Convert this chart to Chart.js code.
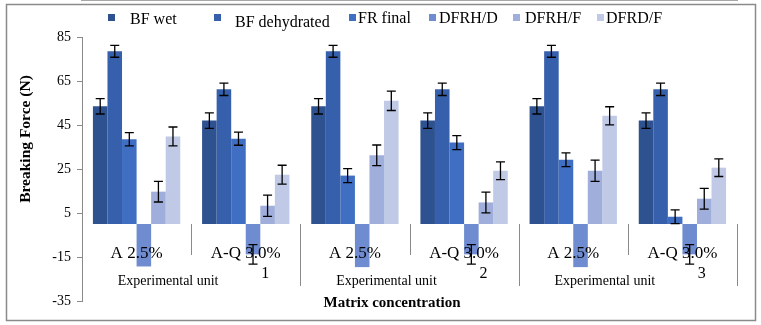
<!DOCTYPE html>
<html>
<head>
<meta charset="utf-8">
<script src="https://cdn.jsdelivr.net/npm/chart.js@4.4.1/dist/chart.umd.min.js"></script>
<style>
  html, body { margin: 0; padding: 0; background: #fff; }
  #wrap { width: 761px; height: 325px; }
</style>
</head>
<body>
<div id="wrap"><canvas id="chart" width="761" height="325"></canvas></div>
<script>
// Breaking force by matrix concentration, three experimental units
const categories = ['A 2.5%', 'A-Q 3.0%', 'A 2.5%', 'A-Q 3.0%', 'A 2.5%', 'A-Q 3.0%'];
const unitTitle = 'Experimental unit';
const unitNumbers = ['1', '2', '3'];
const yTicks = [-35, -15, 5, 25, 45, 65, 85];

const seriesNames = ['BF wet', 'BF dehydrated', 'FR final', 'DFRH/D', 'DFRH/F', 'DFRD/F'];
const bfWet = [53.5, 47, 53.5, 47, 53.5, 47];
const bfWetErr = [3.5, 3.5, 3.5, 3.5, 3.5, 3.5];
const bfDehydrated = [78.5, 61.2, 78.5, 61.2, 78.5, 61.2];
const bfDehydratedErr = [2.7, 2.8, 2.7, 2.8, 2.7, 2.8];
const frFinal = [38.5, 38.8, 22, 37, 29.2, 3.3];
const frFinalErr = [3, 3, 3.2, 3.2, 3.1, 3.1];
const dfrhD = [-19.3, -13.8, -19.6, -13.8, -19.6, -13.8];
const dfrhDErr = [0, 4.4, 0, 4.4, 0, 4.4];
const dfrhF = [14.7, 8.3, 31.2, 9.8, 24.2, 11.5];
const dfrhFErr = [4.7, 4.8, 4.7, 4.7, 4.8, 4.7];
const dfrdF = [39.8, 22.4, 56, 24.2, 49.2, 25.6];
const dfrdFErr = [4.3, 4.3, 4.4, 4.0, 4.1, 4.0];

const colors = ['#2e5190', '#3660ab', '#3f6ec2', '#6e8ccf', '#9faeda', '#c0cae6'];
const serif = "'Liberation Serif', 'Times New Roman', serif";
const gray = '#8a8a8a';

const values = [bfWet, bfDehydrated, frFinal, dfrhD, dfrhF, dfrdF];
const errors = [bfWetErr, bfDehydratedErr, frFinalErr, dfrhDErr, dfrhFErr, dfrdFErr];

// legend layout: box left, box top, text left, text middle
const legendSpots = [
  [108, 14, 130, 20], [214, 14, 235, 22.5], [349, 14, 358, 18.5],
  [429, 14, 439, 18.5], [513, 14, 525, 18.5], [597, 14, 606, 18.5]
];

const errorBars = {
  id: 'errorBars',
  afterDatasetsDraw(chart) {
    const ctx = chart.ctx;
    const y = chart.scales.y;
    ctx.save();
    ctx.strokeStyle = '#000';
    ctx.lineWidth = 1.3;
    chart.data.datasets.forEach((ds, di) => {
      const meta = chart.getDatasetMeta(di);
      meta.data.forEach((bar, i) => {
        const e = ds.errors[i];
        if (!e) return;
        const top = y.getPixelForValue(ds.data[i] + e);
        const bot = y.getPixelForValue(ds.data[i] - e);
        ctx.beginPath();
        ctx.moveTo(bar.x, top); ctx.lineTo(bar.x, bot);
        ctx.moveTo(bar.x - 4.5, top); ctx.lineTo(bar.x + 4.5, top);
        ctx.moveTo(bar.x - 4.5, bot); ctx.lineTo(bar.x + 4.5, bot);
        ctx.stroke();
      });
    });
    ctx.restore();
  }
};

// frame, legend, second category level and axis titles
const decorations = {
  id: 'decorations',
  afterDraw(chart) {
    const ctx = chart.ctx;
    const x = chart.scales.x;
    const y = chart.scales.y;
    const zero = y.getPixelForValue(0);
    const half = (x.getPixelForValue(1) - x.getPixelForValue(0)) / 2;
    ctx.save();

    ctx.strokeStyle = gray;
    ctx.lineWidth = 1.5;
    ctx.strokeRect(6.5, 4.5, 749, 316);

    // dividers between categories and between units
    ctx.lineWidth = 1;
    for (let i = 0; i <= categories.length; i++) {
      const px = Math.round(x.getPixelForValue(i) - half) + 0.5;
      const len = i % 2 === 0 ? 62 : 31;
      ctx.beginPath();
      ctx.moveTo(px, zero); ctx.lineTo(px, zero + len);
      ctx.stroke();
    }

    ctx.fillStyle = '#000';
    ctx.textAlign = 'center';
    ctx.textBaseline = 'middle';
    unitNumbers.forEach((n, u) => {
      const c = (x.getPixelForValue(2 * u) + x.getPixelForValue(2 * u + 1)) / 2;
      ctx.font = '14px ' + serif;
      ctx.fillText(unitTitle, c - 23, zero + 57);
      ctx.font = '16px ' + serif;
      ctx.fillText(n, c + 74, zero + 50);
    });

    ctx.font = 'bold 15px ' + serif;
    ctx.fillText('Matrix concentration', 392, 303);
    ctx.translate(26, 139);
    ctx.rotate(-Math.PI / 2);
    ctx.font = 'bold 15.5px ' + serif;
    ctx.fillText('Breaking Force (N)', 0, 0);
    ctx.setTransform(1, 0, 0, 1, 0, 0);

    // legend
    ctx.textAlign = 'left';
    ctx.font = '16px ' + serif;
    chart.data.datasets.forEach((ds, i) => {
      const [bx, by, tx, ty] = legendSpots[i];
      ctx.fillStyle = ds.backgroundColor;
      ctx.fillRect(bx, by, 7, 7);
      ctx.fillStyle = '#000';
      ctx.fillText(ds.label, tx, ty);
    });
    ctx.restore();
  }
};

new Chart(document.getElementById('chart'), {
  type: 'bar',
  data: {
    labels: categories,
    datasets: seriesNames.map((name, i) => ({
      label: name,
      data: values[i],
      errors: errors[i],
      backgroundColor: colors[i],
      borderWidth: 0,
      categoryPercentage: 0.8,
      barPercentage: 1.0
    }))
  },
  options: {
    responsive: false,
    animation: false,
    layout: { padding: { left: 0, right: 24, top: 37, bottom: 24 } },
    plugins: {
      legend: { display: false },
      tooltip: { enabled: false }
    },
    scales: {
      x: {
        position: { y: 0 },
        grid: { display: false, z: 1 },
        border: { display: true, color: gray, width: 1.5 },
        ticks: {
          z: 1,
          color: '#000',
          font: { family: serif, size: 17 },
          padding: 11,
          maxRotation: 0,
          autoSkip: false
        }
      },
      y: {
        min: -35,
        max: 85,
        afterBuildTicks: s => { s.ticks = yTicks.map(v => ({ value: v })); },
        afterFit: s => { s.width = 82; },
        grid: { drawOnChartArea: false, tickLength: 5, color: gray },
        border: { display: true, color: gray, width: 1 },
        ticks: {
          color: '#000',
          font: { family: serif, size: 14 },
          padding: 6
        }
      }
    }
  },
  plugins: [errorBars, decorations]
});
</script>
</body>
</html>
